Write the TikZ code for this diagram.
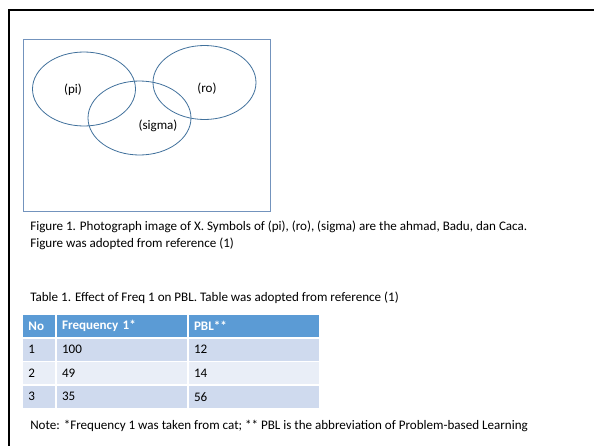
\documentclass[tikz,border=0pt]{standalone}
\usepackage{fontspec}
\setmainfont{Carlito}
\usetikzlibrary{positioning,shapes.geometric}
\definecolor{frameblue}{HTML}{7393BD}
\definecolor{ringblue}{HTML}{41719C}
\definecolor{headblue}{HTML}{5B9BD5}
\definecolor{rowdark}{HTML}{CFDAEE}
\definecolor{rowlight}{HTML}{E9EEF7}
\tikzstyle{ring}=[shape=ellipse, draw=ringblue, line width=0.6pt, minimum width=77.25pt, minimum height=55.5pt, inner sep=0]
\tikzstyle{lbl}=[inner sep=0, font=\fontsize{9.8}{11}\selectfont]
\tikzstyle{txt}=[inner sep=0, anchor=base west, font=\fontsize{9.8}{11}\selectfont]
\tikzstyle{cell}=[draw=white, line width=0.75pt, minimum height=17.6pt, inner xsep=4.5pt, inner ysep=0, anchor=north west, align=left, font=\fontsize{9.8}{11}\selectfont]

\begin{document}
\begin{tikzpicture}[x=0.75pt, y=-0.75pt]
\useasboundingbox (0,0) rectangle (594,446);
\fill[white] (0,0) rectangle (594,446);
% slide frame
\draw[line width=1.5pt] (8.5,446) -- (8.5,9.5) -- (594,9.5);
% picture box
\draw[frameblue, line width=0.6pt] (23,39) rectangle (270,211);
\node[ring] (P) at (84,89) {};
\node[ring] (S) at (139.5,118) {};
\node[ring] (R) at (204.5,82.5) {};
\node[lbl] (Plbl) at (73,90) {(pi)};
\node[lbl] (Rlbl) at (207,89) {(ro)};
\node[lbl] (Slbl) at (158,126) {(sigma)};
% captions
\node[txt] (cap1) at (30,230) {Figure 1. Photograph image of X. Symbols of (pi), (ro), (sigma) are the ahmad, Badu, dan Caca.};
\node[txt] (cap2) at (30,247) {Figure was adopted from reference (1)};
\node[txt] (tcap) at (30,301) {Table 1. Effect of Freq 1 on PBL. Table was adopted from reference (1)};
% table
\node[cell, fill=headblue, text=white, text width=15.4pt, font=\fontsize{9.8}{11}\selectfont\bfseries] (H1) at (22,314) {No};
\node[cell, fill=headblue, text=white, text width=89.25pt, font=\fontsize{9.8}{11}\selectfont\bfseries, right=0pt of H1.north east, anchor=north west] (H2) {Frequency 1*};
\node[cell, fill=headblue, text=white, text width=89.6pt, font=\fontsize{9.8}{11}\selectfont\bfseries, right=0pt of H2.north east, anchor=north west] (H3) {PBL**};
\foreach \n/\f/\p [count=\i] in {1/100/12, 2/49/14, 3/35/56}
{
\pgfmathparse{int(mod(\i,2))}
\ifnum\pgfmathresult=1 \def\rowcol{rowdark}\else\def\rowcol{rowlight}\fi
\node[cell, fill=\rowcol, text width=15.4pt] (A\i) at (22,314+23.5*\i) {\n};
\node[cell, fill=\rowcol, text width=89.25pt, right=0pt of A\i.north east, anchor=north west] (B\i) {\f};
\node[cell, fill=\rowcol, text width=89.6pt, right=0pt of B\i.north east, anchor=north west] (C\i) {\p};
}
\node[txt] (note) at (30,429) {Note: *Frequency 1 was taken from cat; ** PBL is the abbreviation of Problem-based Learning};
\end{tikzpicture}
\end{document}
